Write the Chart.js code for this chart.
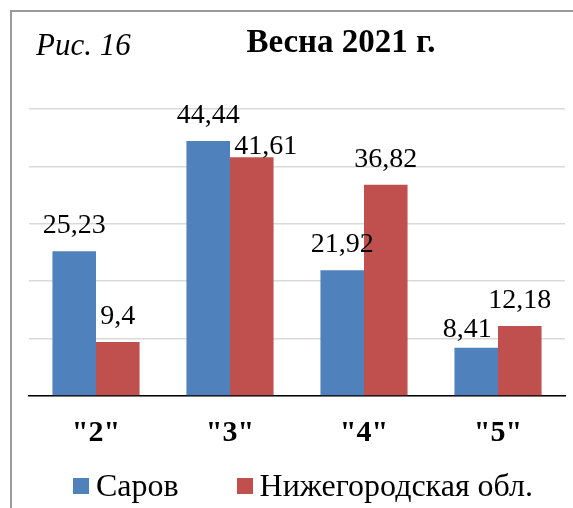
<!DOCTYPE html>
<html>
<head>
<meta charset="utf-8">
<script src="https://cdn.jsdelivr.net/npm/chart.js@4.4.0/dist/chart.umd.min.js"></script>
<style>
  html, body { margin: 0; padding: 0; background: #fff; overflow: hidden; }
  #wrap { position: relative; width: 573px; height: 508px; overflow: hidden; }
  #frame {
    position: absolute; left: 10px; top: 10px; width: 700px; height: 700px;
    border-top: 2px solid #9a9a9a; border-left: 2px solid #9a9a9a;
  }
  #chart { position: absolute; left: 0; top: 0; }
  #legend {
    position: absolute; left: 0; top: 467px; width: 606px;
    display: flex; justify-content: center; gap: 58px;
    font: 32px 'Liberation Serif', 'Times New Roman', serif; color: #000;
  }
  #legend .item { display: flex; align-items: center; }
  #legend .box { width: 16px; height: 16px; margin-right: 7px; }
</style>
</head>
<body>
<div id="wrap">
  <div id="frame"></div>
  <canvas id="chart" width="573" height="508"></canvas>
  <div id="legend"></div>
</div>
<script>
// ── Data ──────────────────────────────────────────────────
const categories = ['"2"', '"3"', '"4"', '"5"'];
const sarov      = [25.23, 44.44, 21.92, 8.41];
const nizhegorod = [9.4, 41.61, 36.82, 12.18];
const seriesNames = ['Саров', 'Нижегородская обл.'];

const COLORS = { blue: '#4F81BD', red: '#C0504D', grid: '#d9d9d9' };
const SERIF = "'Liberation Serif', 'Times New Roman', serif";

// Excel moved a couple of labels to avoid overlaps: [dataset][index] -> [dx, dy]
const LABEL_NUDGE = { '1-1': [14, 15], '0-3': [-9, 7] };

// ── Plugins ───────────────────────────────────────────────
const headerPlugin = {
  id: 'header',
  afterDraw(chart) {
    const ctx = chart.ctx;
    ctx.save();
    ctx.fillStyle = '#000';
    ctx.textBaseline = 'alphabetic';
    ctx.textAlign = 'left';
    ctx.font = `italic 31px ${SERIF}`;
    ctx.fillText('Рис. 16', 36, 55);
    ctx.textAlign = 'center';
    ctx.font = `bold 33px ${SERIF}`;
    ctx.fillText('Весна 2021 г.', 341, 52);
    ctx.restore();
  },
};

const valueLabels = {
  id: 'valueLabels',
  afterDatasetsDraw(chart) {
    const ctx = chart.ctx;
    ctx.save();
    ctx.fillStyle = '#000';
    ctx.font = `28px ${SERIF}`;
    ctx.textAlign = 'center';
    ctx.textBaseline = 'alphabetic';
    chart.data.datasets.forEach((ds, di) => {
      chart.getDatasetMeta(di).data.forEach((bar, i) => {
        const nudge = LABEL_NUDGE[`${di}-${i}`] || [0, 0];
        const txt = String(ds.data[i]).replace('.', ',');
        ctx.fillText(txt, bar.x + nudge[0], bar.y - 18 + nudge[1]);
      });
    });
    ctx.restore();
  },
};

// ── Chart ─────────────────────────────────────────────────
const chart = new Chart(document.getElementById('chart'), {
  type: 'bar',
  data: {
    labels: categories,
    datasets: [
      { label: seriesNames[0], data: sarov,      backgroundColor: COLORS.blue },
      { label: seriesNames[1], data: nizhegorod, backgroundColor: COLORS.red },
    ],
  },
  options: {
    responsive: false,
    animation: false,
    categoryPercentage: 0.65,
    barPercentage: 1,
    layout: { padding: { left: 29, right: 8, top: 109, bottom: 46 } },
    plugins: {
      legend:  { display: false },
      tooltip: { enabled: false },
      title:   { display: false },
    },
    scales: {
      x: {
        grid:   { display: false },
        border: { display: true, color: '#000', width: 1.5 },
        ticks:  { color: '#000', padding: 11, font: { family: SERIF, size: 30, weight: 'bold' } },
      },
      y: {
        min: 0,
        max: 50,
        grid:   { color: COLORS.grid, lineWidth: 1.5, drawTicks: false },
        border: { display: false },
        ticks:  { display: false, stepSize: 10 },
      },
    },
  },
  plugins: [headerPlugin, valueLabels],
});

// ── HTML legend ───────────────────────────────────────────
const legendEl = document.getElementById('legend');
chart.data.datasets.forEach(ds => {
  const item = document.createElement('div');
  item.className = 'item';
  item.innerHTML = `<span class="box" style="background:${ds.backgroundColor}"></span><span>${ds.label}</span>`;
  legendEl.appendChild(item);
});
</script>
</body>
</html>
